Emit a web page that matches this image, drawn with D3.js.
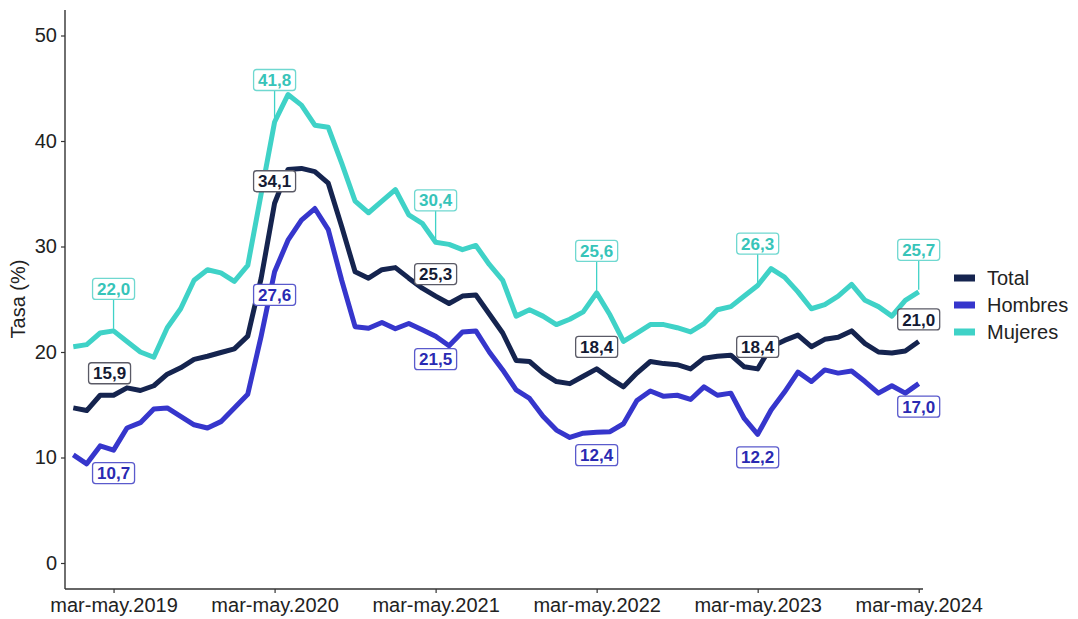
<!DOCTYPE html>
<html>
<head>
<meta charset="utf-8">
<script src="https://cdn.jsdelivr.net/npm/d3@7"></script>
<style>
  body { margin: 0; background: #fff; }
  svg { font-family: "Liberation Sans", Arial, sans-serif; }
</style>
</head>
<body>
<script>
const width = 1078;
const height = 619;

// trimestres móviles
const periods = [
  'dic-feb.2019', 'ene-mar.2019', 'feb-abr.2019', 'mar-may.2019', 'abr-jun.2019', 'may-jul.2019', 'jun-ago.2019', 'jul-sep.2019', 'ago-oct.2019', 'sep-nov.2019', 'oct-dic.2019', 'nov-ene.2020',
  'dic-feb.2020', 'ene-mar.2020', 'feb-abr.2020', 'mar-may.2020', 'abr-jun.2020', 'may-jul.2020', 'jun-ago.2020', 'jul-sep.2020', 'ago-oct.2020', 'sep-nov.2020', 'oct-dic.2020', 'nov-ene.2021',
  'dic-feb.2021', 'ene-mar.2021', 'feb-abr.2021', 'mar-may.2021', 'abr-jun.2021', 'may-jul.2021', 'jun-ago.2021', 'jul-sep.2021', 'ago-oct.2021', 'sep-nov.2021', 'oct-dic.2021', 'nov-ene.2022',
  'dic-feb.2022', 'ene-mar.2022', 'feb-abr.2022', 'mar-may.2022', 'abr-jun.2022', 'may-jul.2022', 'jun-ago.2022', 'jul-sep.2022', 'ago-oct.2022', 'sep-nov.2022', 'oct-dic.2022', 'nov-ene.2023',
  'dic-feb.2023', 'ene-mar.2023', 'feb-abr.2023', 'mar-may.2023', 'abr-jun.2023', 'may-jul.2023', 'jun-ago.2023', 'jul-sep.2023', 'ago-oct.2023', 'sep-nov.2023', 'oct-dic.2023', 'nov-ene.2024',
  'dic-feb.2024', 'ene-mar.2024', 'feb-abr.2024', 'mar-may.2024'
];

const total = [
  14.7, 14.45, 15.9, 15.9, 16.6, 16.35, 16.8, 17.9, 18.5, 19.3, 19.6, 19.95,
  20.3, 21.5, 27.0, 34.1, 37.3, 37.4, 37.1, 36.0, 31.9, 27.6, 27.0, 27.8,
  28.0, 27.0, 26.05, 25.3, 24.6, 25.3, 25.4, 23.6, 21.8, 19.2, 19.1, 18.0,
  17.2, 17.0, 17.7, 18.4, 17.5, 16.7, 18.0, 19.1, 18.9, 18.8, 18.4, 19.4,
  19.6, 19.7, 18.6, 18.4, 20.5, 21.1, 21.6, 20.5, 21.2, 21.4, 22.0, 20.8,
  20.0, 19.9, 20.1, 21.0
];

const hombres = [
  10.25, 9.4, 11.1, 10.7, 12.8, 13.3, 14.6, 14.7, 13.9, 13.1, 12.8, 13.4,
  14.7, 16.0, 21.5, 27.6, 30.6, 32.5, 33.6, 31.6, 26.8, 22.4, 22.25, 22.8,
  22.2, 22.7, 22.1, 21.5, 20.6, 21.9, 22.0, 20.0, 18.3, 16.4, 15.6, 13.9,
  12.6, 11.9, 12.3, 12.4, 12.45, 13.2, 15.4, 16.3, 15.8, 15.9, 15.5, 16.7,
  15.9, 16.1, 13.7, 12.2, 14.5, 16.2, 18.1, 17.2, 18.3, 18.0, 18.2, 17.2,
  16.1, 16.8, 16.1, 17.0
];

const mujeres = [
  20.5, 20.7, 21.8, 22.0, 21.0, 20.0, 19.5, 22.3, 24.1, 26.8, 27.8, 27.5,
  26.7, 28.2, 35.0, 41.8, 44.4, 43.4, 41.5, 41.3, 37.9, 34.3, 33.2, 34.3,
  35.4, 33.0, 32.2, 30.4, 30.2, 29.7, 30.1, 28.3, 26.8, 23.4, 24.0, 23.4,
  22.6, 23.1, 23.8, 25.6, 23.5, 21.0, 21.8, 22.6, 22.6, 22.3, 21.9, 22.7,
  24.0, 24.3, 25.3, 26.3, 27.9, 27.1, 25.7, 24.1, 24.5, 25.3, 26.4, 24.9,
  24.3, 23.4, 24.9, 25.7
];

const seriesNames = ['Total', 'Hombres', 'Mujeres'];
const tickLabels = ['mar-may.2019', 'mar-may.2020', 'mar-may.2021', 'mar-may.2022', 'mar-may.2023', 'mar-may.2024'];
const yTicks = [0, 10, 20, 30, 40, 50];

const lineColors = { Total: '#15244f', Hombres: '#3636cc', Mujeres: '#3fd2c7' };
const textColors = { Total: '#141a33', Hombres: '#2a2ab2', Mujeres: '#37c4b9' };
const boxColors = { Total: '#5a5a66', Hombres: '#5a5acc', Mujeres: '#6fd8d0' };
// desplazamiento de las etiquetas respecto al punto (px)
const labelNudge = { Total: -22, Hombres: 23, Mujeres: -42 };

let series = [
  { name: 'Total', values: total },
  { name: 'Hombres', values: hombres },
  { name: 'Mujeres', values: mujeres }
];

let svg = d3.select('body')
  .append('svg')
  .attr('width', width)
  .attr('height', height);

let xScale = d3.scalePoint()
  .domain(periods)
  .range([73.3, 918.7]);

let yScale = d3.scaleLinear()
  .domain([0, 50])
  .range([563, 35.5]);

// ejes
let xAxis = d3.axisBottom(xScale)
  .tickValues(tickLabels)
  .tickSize(4)
  .tickSizeOuter(0);

let yAxis = d3.axisLeft(yScale)
  .tickValues(yTicks)
  .tickSize(4)
  .tickSizeOuter(0);

let xAxisGroup = svg.append('g')
  .attr('transform', 'translate(0, 589)')
  .call(xAxis);
xAxisGroup.select('.domain').attr('d', 'M65,0H923');

let yAxisGroup = svg.append('g')
  .attr('transform', 'translate(65, 0)')
  .call(yAxis);
yAxisGroup.select('.domain').attr('d', 'M0,10V589');

svg.selectAll('.domain')
  .attr('stroke', '#333')
  .attr('stroke-width', 1.4);
svg.selectAll('.tick line')
  .attr('stroke', '#333')
  .attr('stroke-width', 1.2);
xAxisGroup.selectAll('.tick text')
  .attr('dy', '0.75em')
  .attr('y', 8)
  .style('font-size', '20px')
  .attr('fill', '#222');
yAxisGroup.selectAll('.tick text')
  .attr('x', -8)
  .style('font-size', '20px')
  .attr('fill', '#222');

svg.append('text')
  .attr('transform', 'translate(25, 299) rotate(-90)')
  .attr('text-anchor', 'middle')
  .style('font-size', '20px')
  .attr('fill', '#222')
  .text('Tasa (%)');

// líneas
let line = d3.line()
  .x((d, i) => xScale(periods[i]))
  .y(d => yScale(d));

svg.append('g')
  .selectAll('path')
  .data(series)
  .enter()
  .append('path')
  .attr('d', d => line(d.values))
  .attr('fill', 'none')
  .attr('stroke', d => lineColors[d.name])
  .attr('stroke-width', 5)
  .attr('stroke-linejoin', 'round');

// etiquetas en cada mar-may
let labels = [];
series.forEach(s => {
  tickLabels.forEach(p => {
    let i = periods.indexOf(p);
    labels.push({ name: s.name, period: p, value: s.values[i] });
  });
});

let fmt = v => d3.format('.1f')(v).replace('.', ',');

let labelGroup = svg.append('g');

let labelEnter = labelGroup.selectAll('.lbl')
  .data(labels)
  .enter()
  .append('g')
  .classed('lbl', true)
  .attr('transform', d => {
    let dx = (d.name === 'Total' && d.period === 'mar-may.2019') ? -4 : 0;
    return `translate(${xScale(d.period) + dx}, ${yScale(d.value) + labelNudge[d.name]})`;
  });

// segmento guía para Mujeres
labelEnter.filter(d => d.name === 'Mujeres')
  .append('line')
  .attr('x1', 0)
  .attr('x2', 0)
  .attr('y1', 10)
  .attr('y2', d => -labelNudge[d.name] - 2)
  .attr('stroke', d => lineColors[d.name])
  .attr('stroke-width', 1.3);

labelEnter.append('rect')
  .attr('x', -21)
  .attr('y', -10.5)
  .attr('width', 42)
  .attr('height', 21)
  .attr('rx', 3)
  .attr('fill', '#fff')
  .attr('stroke', d => boxColors[d.name])
  .attr('stroke-width', 1.3);

labelEnter.append('text')
  .attr('text-anchor', 'middle')
  .attr('dy', '0.36em')
  .style('font-size', '17px')
  .style('font-weight', 'bold')
  .attr('fill', d => textColors[d.name])
  .text(d => fmt(d.value));

// leyenda
let legend = svg.append('g')
  .attr('transform', 'translate(954, 278)');

let legendItems = legend.selectAll('.key')
  .data(seriesNames)
  .enter()
  .append('g')
  .classed('key', true)
  .attr('transform', (d, i) => `translate(0, ${i * 27})`);

legendItems.append('rect')
  .attr('x', 0)
  .attr('y', -3.5)
  .attr('width', 21)
  .attr('height', 7)
  .attr('fill', d => lineColors[d]);

legendItems.append('text')
  .attr('x', 33)
  .attr('dy', '0.36em')
  .style('font-size', '20px')
  .attr('fill', '#222')
  .text(d => d);
</script>
</body>
</html>
